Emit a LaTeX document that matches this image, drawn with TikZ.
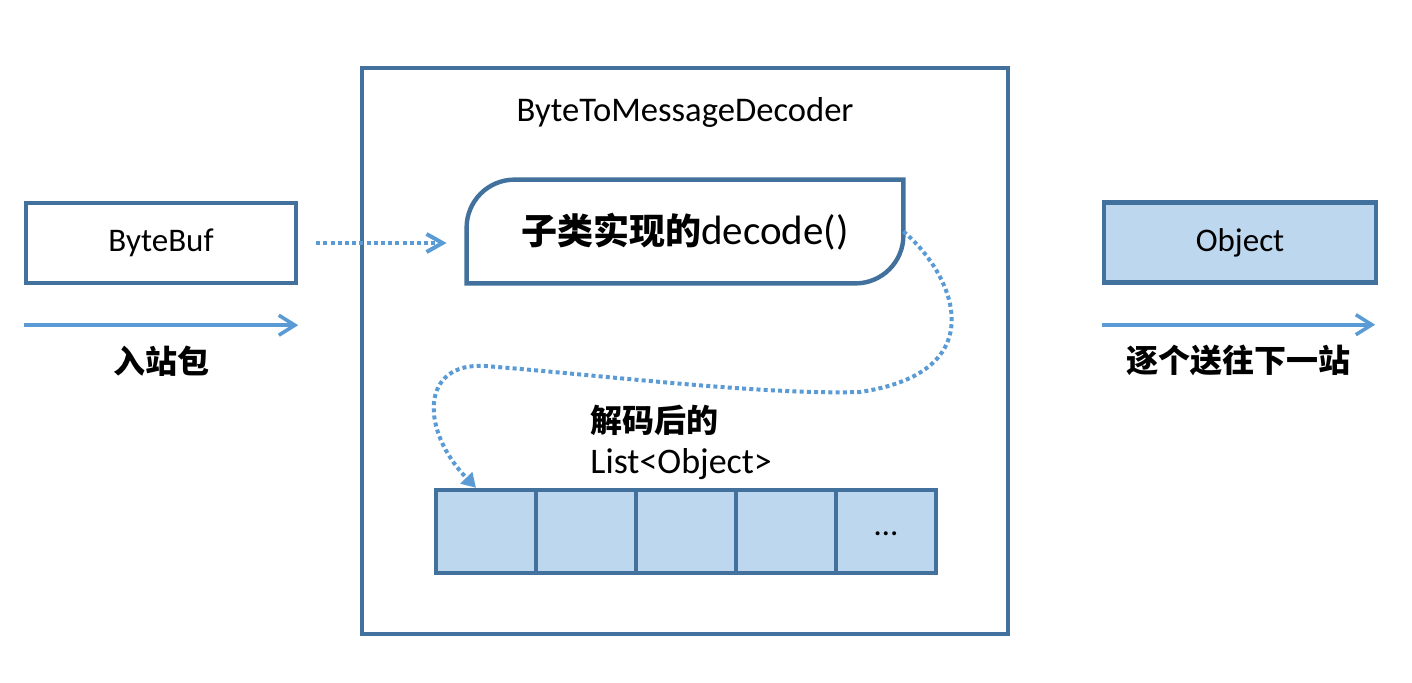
\documentclass[tikz,border=0pt]{standalone}
\usepackage{fontspec}
\setmainfont{Carlito}
\newfontfamily\cjk{Noto Sans CJK SC}
\usetikzlibrary{arrows.meta,positioning}
\definecolor{marco}{HTML}{41719C}
\definecolor{relleno}{HTML}{BDD7EE}
\definecolor{flecha}{HTML}{5B9BD5}
\tikzset{
  caja/.style={draw=marco, line width=2.2pt, minimum width=135pt, minimum height=40pt,
    inner sep=0pt, font=\fontsize{16.5}{20}\selectfont},
  celda/.style={draw=marco, fill=relleno, line width=2.2pt, minimum width=50pt,
    minimum height=41.5pt, inner sep=0pt, font=\fontsize{16.5}{20}\selectfont},
  flujo/.style={draw=flecha, line width=1.8pt, -{Straight Barb[length=8pt,width=10pt]}},
  punteado/.style={draw=flecha, line width=2pt, dash pattern=on 2pt off 1.6pt},
  etiqueta/.style={font=\cjk\bfseries\fontsize{16}{20}\selectfont}
}
\begin{document}
\begin{tikzpicture}[x=0.5pt,y=0.5pt]
    \useasboundingbox (0,0) rectangle (1412,682);

    % Decodificador
    \node[draw=marco, line width=2.2pt, minimum width=323pt, minimum height=283pt, inner sep=0pt] (decoder) at (685,331) {};
    \node[font=\fontsize{17.3}{20}\selectfont] (titulo) at (685,570) {ByteToMessageDecoder};

    % decode() del subtipo
    \node[minimum width=218pt, minimum height=51.5pt, inner sep=0pt] (decode) at (685,450.5)
        {{\cjk\bfseries\fontsize{18}{22}\selectfont 子类实现的}{\fontsize{20.5}{24}\selectfont decode()}};
    \draw[marco, line width=2.2pt] (decode.south west) -- ([yshift=-24pt]decode.north west)
        arc[start angle=180, end angle=90, radius=24pt] -- (decode.north east)
        -- ([yshift=24pt]decode.south east) arc[start angle=0, end angle=-90, radius=24pt] -- cycle;

    % Entrada
    \node[caja] (bytebuf) at (161,439) {ByteBuf};
    \draw[flujo] ([yshift=-20pt]bytebuf.south west) -- ([yshift=-20pt]bytebuf.south east)
        node[midway, below=6pt, etiqueta] (entrada) {入站包};
    \draw[punteado, -{Straight Barb[length=8pt,width=9pt]}] ([xshift=9pt]bytebuf.east) -- ([xshift=-10pt]bytebuf.east -| decode.west);

    % Salida
    \node[caja, fill=relleno, minimum width=136pt] (object) at (1240,439.5) {Object};
    \draw[flujo] ([yshift=-20pt]object.south west) -- ([yshift=-20pt,xshift=-1.5pt]object.south east)
        node[midway, below=6pt, etiqueta] (salida) {逐个送往下一站};

    % Lista decodificada
    \foreach \i/\t in {1/{},2/{},3/{},4/{},5/{\raisebox{-4pt}{…}}}
        \node[celda] (cell\i) at ({386+100*\i},150.5) {\t};
    \node[anchor=west, align=left, inner sep=0pt, font=\fontsize{18}{20.5}\selectfont] (lista) at (590,240)
        {{\cjk\bfseries\fontsize{16}{20.5}\selectfont 解码后的}\\List<Object>};

    % Curva de decode() a la lista
    \draw[punteado, -{Triangle[length=7pt,width=8pt]}] (decode.east)
        .. controls (955,407) and (995,310) .. (860,290)
        .. controls (760,287) and (600,307) .. (485,316)
        .. controls (420,320) and (420,252) .. ([xshift=-5pt]cell1.north);
\end{tikzpicture}
\end{document}
